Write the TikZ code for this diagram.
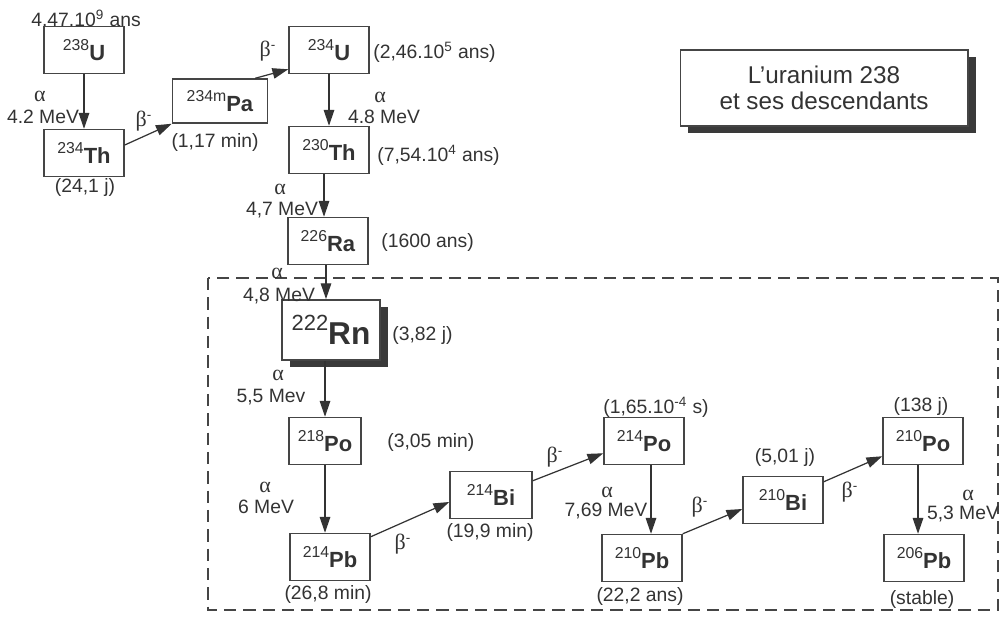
\documentclass[tikz,border=0pt]{standalone}
\usepackage{fontspec}
\setmainfont{Liberation Sans}
\newfontfamily\greekfont{Liberation Serif}
\usepackage{xcolor}
\usepackage{tikz}
\usetikzlibrary{arrows.meta, shadows}
\definecolor{inkgray}{HTML}{333333}
\definecolor{framegray}{HTML}{454545}
\definecolor{shadegray}{HTML}{3A3A3A}

\newcommand{\nucl}[3][9]{\raisebox{0.45em}{\fontsize{#1}{#1}\selectfont #2}\textbf{#3}}
\newcommand{\alp}{{\greekfont\fontsize{12.5}{14}\selectfont α}}
\newcommand{\bet}{{\greekfont\fontsize{12.5}{14}\selectfont β}\textsuperscript{-}}

\tikzset{
    iso/.style={draw=framegray, line width=0.85pt, fill=white, text=inkgray,
        minimum width=1.6cm, minimum height=0.94cm, inner sep=0pt,
        font=\fontsize{12.5}{14}\selectfont},
    note/.style={text=inkgray, inner sep=0pt, font=\fontsize{11}{13}\selectfont},
    decay/.style={draw=inkgray, line width=0.7pt, -{Triangle[length=9pt, width=6pt]}},
    boxshadow/.style={drop shadow={shadow xshift=0.16cm, shadow yshift=-0.14cm,
        fill=shadegray, opacity=1}}
}

\begin{document}
\begin{tikzpicture}[x=0.02cm, y=-0.02cm]
    \useasboundingbox (0,0) rectangle (1000,616);
    \draw[framegray, line width=0.8pt, dash pattern=on 7pt off 4pt] (208,278) rectangle (998,610);

    \node[draw=framegray, line width=0.6pt, fill=white, boxshadow, text=inkgray,
          minimum width=5.76cm, minimum height=1.52cm, align=center,
          font=\fontsize{13.8}{15}\selectfont] (title) at (824,88)
          {L'uranium 238\\et ses descendants};

    \node[iso] (u238) at (84,50) {\nucl{238}{U}};
    \node[iso] (th234) at (84,153) {\nucl{234}{Th}};
    \node[iso, minimum width=1.9cm, minimum height=0.88cm] (pa234) at (220,101) {\nucl{234m}{Pa}};
    \node[iso] (u234) at (329,50) {\nucl{234}{U}};
    \node[iso] (th230) at (329,150) {\nucl{230}{Th}};
    \node[iso] (ra226) at (328,241) {\nucl{226}{Ra}};
    \node[iso, line width=1pt, boxshadow, minimum width=1.96cm, minimum height=1.2cm,
          font=\fontsize{18}{20}\selectfont] (rn222) at (331,330) {\nucl[12.5]{222}{Rn}};
    \node[iso, minimum width=1.44cm] (po218) at (325,441) {\nucl{218}{Po}};
    \node[iso] (pb214) at (330,557) {\nucl{214}{Pb}};
    \node[iso, minimum width=1.64cm] (bi214) at (491,495) {\nucl{214}{Bi}};
    \node[iso] (po214) at (644,441) {\nucl{214}{Po}};
    \node[iso] (pb210) at (642,558) {\nucl{210}{Pb}};
    \node[iso] (bi210) at (783,500) {\nucl{210}{Bi}};
    \node[iso] (po210) at (923,441) {\nucl{210}{Po}};
    \node[iso] (pb206) at (924,558) {\nucl{206}{Pb}};

    \draw[decay] (u238) -- (th234);
    \draw[decay] ([yshift=0.16cm]th234.east) -- (pa234.south west);
    \draw[decay] ([xshift=-0.26cm]pa234.north east) -- ([yshift=0.1cm]u234.south west);
    \draw[decay] (u234) -- (th230);
    \draw[decay] ([xshift=-0.1cm]th230.south) -- ([xshift=-0.1cm]th230.south |- ra226.north);
    \draw[decay] ([xshift=-0.04cm]ra226.south) -- ([xshift=-0.04cm]ra226.south |- rn222.north);
    \draw[decay] (po218.north |- rn222.south) -- (po218.north);
    \draw[decay] (po218.south) -- (po218.south |- pb214.north);
    \draw[decay] ([yshift=-0.08cm]pb214.north east) -- ([yshift=-0.14cm]bi214.west);
    \draw[decay] ([yshift=-0.2cm]bi214.north east) -- ([yshift=0.24cm]po214.south west);
    \draw[decay] ([xshift=0.14cm]po214.south) -- ([xshift=0.14cm]po214.south |- pb210.north);
    \draw[decay] (pb210.north east) -- ([yshift=-0.18cm]bi210.west);
    \draw[decay] ([yshift=-0.12cm]bi210.north east) -- ([yshift=0.18cm]po210.south west);
    \draw[decay] ([xshift=-0.1cm]po210.south) -- ([xshift=-0.1cm]po210.south |- pb206.north);

    \node[note] (t238) at (86,18) {4.47.10\textsuperscript{9} ans};
    \node[note] (a1) at (40,96) {\alp};
    \node[note] (e1) at (43,117) {4.2 MeV};
    \node[note] (t234) at (85,187) {(24,1 j)};
    \node[note] (b1) at (144,121) {\bet};
    \node[note] (tpa) at (215,142) {(1,17 min)};
    \node[note] (b2) at (268,51) {\bet};
    \node[note, anchor=west] (tu234) at (373,52) {(2,46.10\textsuperscript{5} ans)};
    \node[note] (a2) at (380,97) {\alp};
    \node[note] (e2) at (384,117) {4.8 MeV};
    \node[note, anchor=west] (tth230) at (377,155) {(7,54.10\textsuperscript{4} ans)};
    \node[note] (a3) at (280,189) {\alp};
    \node[note] (e3) at (282,210) {4,7 MeV};
    \node[note, anchor=west] (tra) at (381,242) {(1600 ans)};
    \node[note] (a4) at (277,273) {\alp};
    \node[note] (e4) at (279,296) {4,8 MeV};
    \node[note, anchor=west] (trn) at (392,335) {(3,82 j)};
    \node[note] (a5) at (278,375) {\alp};
    \node[note] (e5) at (271,397) {5,5 Mev};
    \node[note, anchor=west] (tpo218) at (387,442) {(3,05 min)};
    \node[note] (a6) at (265,487) {\alp};
    \node[note] (e6) at (266,507) {6 MeV};
    \node[note] (tpb214) at (328,594) {(26,8 min)};
    \node[note] (b3) at (403,544) {\bet};
    \node[note] (tbi214) at (490,532) {(19,9 min)};
    \node[note] (b4) at (555,457) {\bet};
    \node[note] (tpo214) at (656,407) {(1,65.10\textsuperscript{-4} s)};
    \node[note] (a7) at (607,492) {\alp};
    \node[note] (e7) at (606,511) {7,69 MeV};
    \node[note] (tpb210) at (640,596) {(22,2 ans)};
    \node[note] (b5) at (700,507) {\bet};
    \node[note] (tbi210) at (785,457) {(5,01 j)};
    \node[note] (b6) at (850,492) {\bet};
    \node[note] (tpo210) at (921,406) {(138 j)};
    \node[note] (a8) at (968,495) {\alp};
    \node[note] (e8) at (963,514) {5,3 MeV};
    \node[note] (tpb206) at (922,599) {(stable)};
\end{tikzpicture}
\end{document}
